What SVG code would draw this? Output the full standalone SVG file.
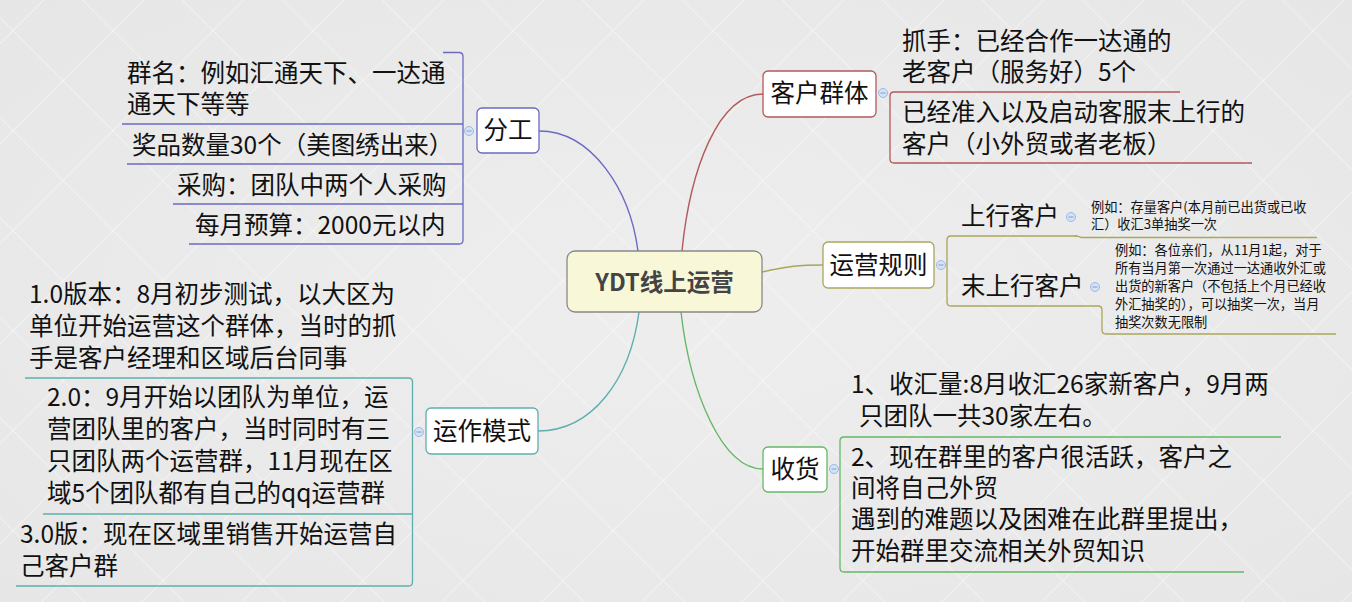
<svg xmlns="http://www.w3.org/2000/svg" width="1352" height="602" viewBox="0 0 1352 602">
<defs>
<pattern id="lattice" patternUnits="userSpaceOnUse" width="70.71" height="70.71" patternTransform="translate(13,30) rotate(45)">
<line x1="0" y1="0" x2="70.71" y2="0" stroke="#ffffff" stroke-width="1.2" stroke-opacity="0.75"/>
<line x1="0" y1="0" x2="0" y2="70.71" stroke="#ffffff" stroke-width="1.2" stroke-opacity="0.75"/>
</pattern>
<radialGradient id="bgGrad" cx="50%" cy="50%" r="75%">
<stop offset="0" stop-color="#eeeeee"/>
<stop offset="1" stop-color="#e6e6e6"/>
</radialGradient>
</defs>
<style>
text { font-family: "Noto Sans CJK SC", "Noto Sans", sans-serif; fill: #111111; }
.t { font-size: 24.5px; }
.s { font-size: 13.2px; }
.node { fill: #ffffff; stroke-width: 1.3; }
.conn { fill: none; stroke-width: 1.4; }
.br { fill: none; stroke-width: 1.3; }
.col { fill: #d3e2f6; stroke: #9db9e2; stroke-width: 1; }
.colm { stroke: #7f9fd0; stroke-width: 1; }
.c1 { stroke: #6a6ac2; }
.c2 { stroke: #b35a5a; }
.c3 { stroke: #aaa65c; }
.c4 { stroke: #5eaeae; }
.c5 { stroke: #66b866; }
.nt { text-anchor: middle; }
</style>
<rect x="0" y="0" width="1352" height="602" fill="url(#bgGrad)"/>
<rect x="0" y="0" width="1352" height="602" fill="url(#lattice)"/>

<g id="connectors">
<path class="conn c1" d="M539,131 C592,131 630,190 638,251"/>
<path class="conn c2" d="M763,94 C718,94 690,170 682,251"/>
<path class="conn c3" d="M762,272 C788,266 800,265 823,265"/>
<path class="conn c4" d="M639,312 C630,380 592,431 538,431"/>
<path class="conn c5" d="M681,312 C690,392 722,469 763,469"/>
<path class="br c1" d="M443,52.5 H459 Q463,52.5 463,56.5 V240 Q463,244 459,244 H189"/>
<path class="br c1" d="M463,124 H122 M463,164 H127 M463,204 H173"/>
<path class="br c2" d="M1180,92 H894 Q890,92 890,96 V159 Q890,163 894,163 H1252"/>
<path class="br c3" d="M1077,236 H951 Q947,236 947,240 V302 Q947,306 951,306 H1098 Q1102,306 1102,310 V330 Q1102,334 1106,334 H1336"/>
<path class="br c3" d="M1075,236 Q1079,236 1081,237.5 H1317"/>
<path class="br c4" d="M25,378 H408.5 Q412.5,378 412.5,382 V582 Q412.5,586 408.5,586 H16 M412.5,514 H43"/>
<path class="br c5" d="M1281,437 H844 Q840,437 840,441 V568 Q840,572 844,572 H1244"/>
</g>

<g id="center">
<rect x="567" y="251" width="195" height="61" rx="8" fill="#f8f8d8" stroke="#888888" stroke-width="1.3"/>
<text x="664.5" y="291" class="nt" style="font-size:23.5px;font-weight:bold;fill:#444444">YDT线上运营</text>
</g>

<g id="fengong">
<rect class="node c1" x="477" y="108" width="62" height="45" rx="5"/>
<text class="t nt" x="508" y="139">分工</text>
<circle class="col" cx="469" cy="131" r="4.5"/><line class="colm" x1="466.5" y1="131" x2="471.5" y2="131"/>
</g>
<g id="fengong-children">
<text class="t"><tspan x="127" y="82">群名：例如汇通天下、一达通</tspan><tspan x="127" y="113">通天下等等</tspan></text>
<text class="t" x="132" y="154">奖品数量30个（美图绣出来）</text>
<text class="t" x="177" y="194">采购：团队中两个人采购</text>
<text class="t" x="195" y="234">每月预算：2000元以内</text>
</g>

<g id="kehuqunti">
<rect class="node c2" x="763" y="71" width="113" height="46" rx="5"/>
<text class="t nt" x="819.5" y="102">客户群体</text>
<circle class="col" cx="883" cy="93" r="4.5"/><line class="colm" x1="880.5" y1="93" x2="885.5" y2="93"/>
</g>
<g id="kehuqunti-children">
<text class="t"><tspan x="902" y="50">抓手：已经合作一达通的</tspan><tspan x="902" y="81">老客户（服务好）5个</tspan></text>
<text class="t"><tspan x="902" y="121">已经准入以及启动客服末上行的</tspan><tspan x="902" y="153">客户（小外贸或者老板）</tspan></text>
</g>

<g id="yunyingguize">
<rect class="node c3" x="823" y="242" width="111" height="46" rx="5"/>
<text class="t nt" x="878.5" y="274">运营规则</text>
<circle class="col" cx="941" cy="265" r="4.5"/><line class="colm" x1="938.5" y1="265" x2="943.5" y2="265"/>
</g>
<g id="shangxing">
<text class="t" x="961" y="225">上行客户</text>
<circle class="col" cx="1071" cy="217" r="4.5"/><line class="colm" x1="1068.5" y1="217" x2="1073.5" y2="217"/>
<text class="s"><tspan x="1091" y="212">例如：存量客户(本月前已出货或已收</tspan><tspan x="1091" y="229">汇）收汇3单抽奖一次</tspan></text>
</g>
<g id="moshangxing">
<text class="t" x="961" y="295">末上行客户</text>
<circle class="col" cx="1095" cy="287" r="4.5"/><line class="colm" x1="1092.5" y1="287" x2="1097.5" y2="287"/>
<text class="s"><tspan x="1115" y="255">例如：各位亲们，从11月1起，对于</tspan><tspan x="1115" y="273">所有当月第一次通过一达通收外汇或</tspan><tspan x="1115" y="291">出货的新客户（不包括上个月已经收</tspan><tspan x="1115" y="309">外汇抽奖的），可以抽奖一次，当月</tspan><tspan x="1115" y="327">抽奖次数无限制</tspan></text>
</g>

<g id="yunzuomoshi">
<rect class="node c4" x="426" y="408" width="112" height="46" rx="5"/>
<text class="t nt" x="482" y="440">运作模式</text>
<circle class="col" cx="419" cy="432" r="4.5"/><line class="colm" x1="416.5" y1="432" x2="421.5" y2="432"/>
</g>
<g id="yunzuomoshi-children">
<text class="t"><tspan x="29" y="303">1.0版本：8月初步测试，以大区为</tspan><tspan x="29" y="335">单位开始运营这个群体，当时的抓</tspan><tspan x="29" y="367">手是客户经理和区域后台同事</tspan></text>
<text class="t"><tspan x="47" y="406">2.0：9月开始以团队为单位，运</tspan><tspan x="47" y="438">营团队里的客户，当时同时有三</tspan><tspan x="47" y="470">只团队两个运营群，11月现在区</tspan><tspan x="47" y="502">域5个团队都有自己的qq运营群</tspan></text>
<text class="t"><tspan x="20" y="543">3.0版：现在区域里销售开始运营自</tspan><tspan x="20" y="575">己客户群</tspan></text>
</g>

<g id="shouhuo">
<rect class="node c5" x="763" y="447" width="64" height="45" rx="5"/>
<text class="t nt" x="795" y="478">收货</text>
<circle class="col" cx="834" cy="469" r="4.5"/><line class="colm" x1="831.5" y1="469" x2="836.5" y2="469"/>
</g>
<g id="shouhuo-children">
<text class="t"><tspan x="851" y="393">1、收汇量:8月收汇26家新客户，9月两</tspan><tspan x="859" y="425">只团队一共30家左右。</tspan></text>
<text class="t"><tspan x="851" y="466">2、现在群里的客户很活跃，客户之</tspan><tspan x="851" y="497">间将自己外贸</tspan><tspan x="851" y="528">遇到的难题以及困难在此群里提出，</tspan><tspan x="851" y="560">开始群里交流相关外贸知识</tspan></text>
</g>
</svg>
